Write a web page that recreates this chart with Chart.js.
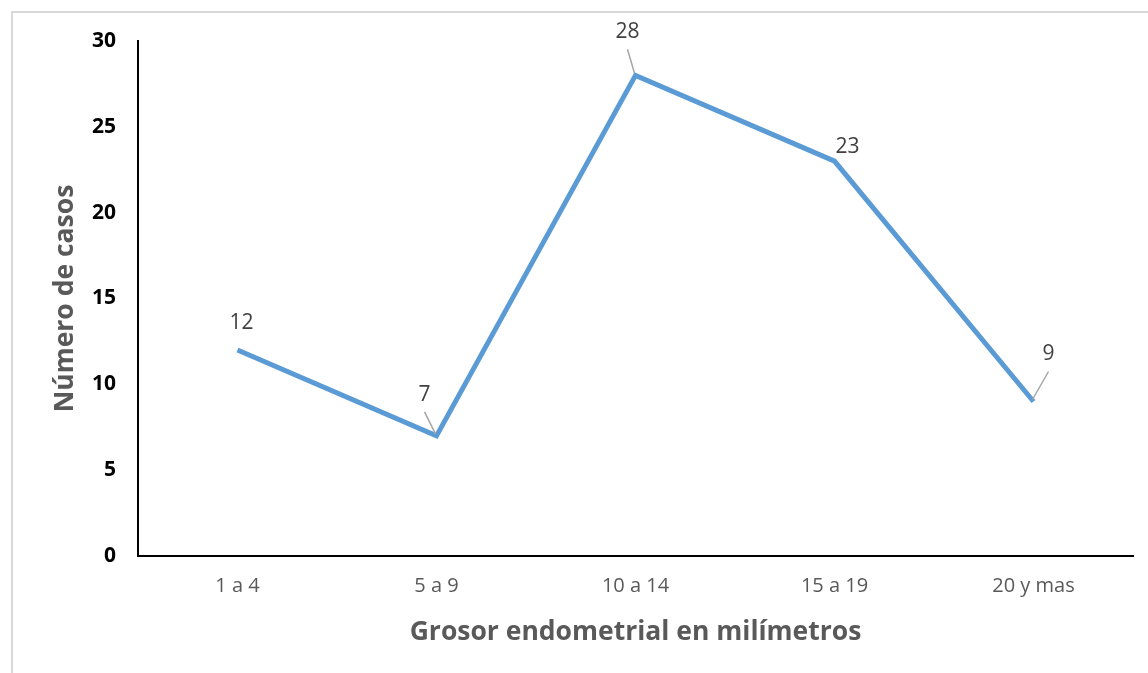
<!DOCTYPE html>
<html>
<head>
<meta charset="utf-8">
<script src="https://cdn.jsdelivr.net/npm/chart.js@4.4.1/dist/chart.umd.min.js"></script>
<style>
  html, body { margin: 0; padding: 0; background: #fff; }
  #wrap { position: relative; width: 1148px; height: 673px; overflow: hidden; }
  #frame { position: absolute; left: 11px; top: 11px; width: 1200px; height: 700px;
           border-left: 2px solid #d9d9d9; border-top: 2px solid #d9d9d9; box-sizing: border-box; }
  canvas { position: absolute; left: 0; top: 0; }
</style>
</head>
<body>
<div id="wrap">
  <div id="frame"></div>
  <canvas id="myChart" width="1148" height="673"></canvas>
</div>
<script>
// data
const categories = ["1 a 4", "5 a 9", "10 a 14", "15 a 19", "20 y mas"];
const casos = [12, 7, 28, 23, 9];
const yTicks = [0, 5, 10, 15, 20, 25, 30];

// where each value label sits relative to its point, and whether it has a leader line
const labelOffsets = [
  { dx: 4, dy: -27, leader: false },
  { dx: -12, dy: -41, leader: true },
  { dx: -8, dy: -43, leader: true },
  { dx: 13, dy: -14, leader: false },
  { dx: 15, dy: -47, leader: true }
];

const FONT = "'Open Sans', sans-serif";

// simple data labels with leader lines
const valueLabels = {
  id: "valueLabels",
  afterDatasetsDraw(chart) {
    const ctx = chart.ctx;
    const meta = chart.getDatasetMeta(0);
    ctx.save();
    meta.data.forEach(function (pt, i) {
      const o = labelOffsets[i];
      const lx = pt.x + o.dx;
      const ly = pt.y + o.dy;
      if (o.leader) {
        ctx.strokeStyle = "#a6a6a6";
        ctx.lineWidth = 1.5;
        ctx.beginPath();
        ctx.moveTo(lx, ly + 17);
        ctx.lineTo(pt.x - 1, pt.y - 2);
        ctx.stroke();
      }
      ctx.fillStyle = "#404040";
      ctx.font = "21px " + FONT;
      ctx.textAlign = "center";
      ctx.textBaseline = "middle";
      ctx.fillText(String(casos[i]), lx, ly);
    });
    ctx.restore();
  }
};

const ctx = document.getElementById("myChart");
var myLineChart = new Chart(ctx, {
  type: "line",
  data: {
    labels: categories,
    datasets: [
      {
        data: casos,
        borderColor: "#5b9bd5",
        borderWidth: 5,
        pointRadius: 0,
        pointHoverRadius: 0,
        tension: 0,
        fill: false
      }
    ]
  },
  options: {
    responsive: false,
    animation: false,
    events: [],
    layout: { padding: { top: 41, right: 15, left: 0, bottom: 0 } },
    plugins: { legend: { display: false }, tooltip: { enabled: false } },
    scales: {
      x: {
        offset: true,
        grid: { display: false, drawTicks: false },
        border: { display: true, color: "#000", width: 2 },
        ticks: { color: "#595959", font: { family: FONT, size: 20 }, padding: 18 },
        title: {
          display: true,
          text: "Grosor endometrial en milímetros",
          color: "#595959",
          font: { family: FONT, size: 26.5, weight: "bold" },
          padding: { top: 0, bottom: 25 }
        },
        afterFit(scale) { scale.height = 117; }
      },
      y: {
        min: 0,
        max: 30,
        afterBuildTicks(scale) { scale.ticks = yTicks.map(v => ({ value: v })); },
        grid: { display: false, drawTicks: false },
        border: { display: true, color: "#000", width: 2 },
        ticks: { color: "#000", font: { family: FONT, size: 21, weight: "bold" }, padding: 22 },
        title: {
          display: true,
          text: "Número de casos",
          color: "#595959",
          font: { family: FONT, size: 26.5, weight: "bold" },
          padding: { top: 50, bottom: 0 }
        },
        afterFit(scale) { scale.width = 138; }
      }
    }
  },
  plugins: [valueLabels]
});
</script>
</body>
</html>
